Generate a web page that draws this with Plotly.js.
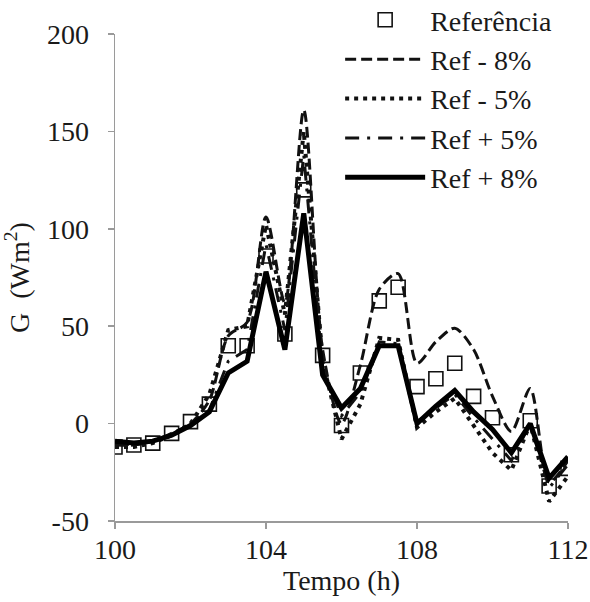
<!DOCTYPE html>
<html>
<head>
<meta charset="utf-8">
<script src="https://cdn.plot.ly/plotly-3.0.1.min.js"></script>
<style>
html,body{margin:0;padding:0;background:#fff;}
#chart{width:590px;height:602px;}
</style>
</head>
<body>
<div id="chart"></div>
<script>
// Time (h)
const tempo = [100,100.5,101,101.5,102,102.5,103,103.5,104,104.5,105,105.5,106,106.5,107,107.5,108,108.5,109,109.5,110,110.5,111,111.5,112];
// G (W/m2)
const referencia = [-12,-11,-10,-5,1,10,40,40,86,46,120,35,-1,26,63,70,19,23,31,14,3,-16,1.5,-32,-23];
const refMenos8 = [-11,-11,-9,-5,0,12,45,52,106,62,161,38,0,30,69,77,31,42,49,38,14,-4,18,-30,-19];
const refMenos5 = [-12,-12,-10,-6,0,15,48,50,102,56,150,32,-8,10,44,43,-2,6,13,-1,-15,-24,0,-40,-27];
const refMais5 = [-10,-11,-9,-6,-1,7,32,38,92,48,138,28,4,16,42,41,1,8,15,3,-8,-19,0,-33,-21];
const refMais8 = [-9,-10,-9,-6,-1,6,26,32,78,38,108,25,8,18,40,40,0,9,17,6,-3,-15,0,-28,-17];
const nomes = ["Referência","Ref - 8%","Ref - 5%","Ref + 5%","Ref + 8%"];
const xTicks = [100,104,108,112];
const yTicks = [-50,0,50,100,150,200];

const FONT = '"Times New Roman", "Liberation Serif", Tinos, serif';
const TXT = "#1a1a1a";
const FS = 28;
const traces = [
  {x:tempo,y:referencia,name:nomes[0],mode:"markers",type:"scatter",
   marker:{symbol:"square-open",size:14,color:"#111",line:{width:1.6,color:"#111"}}},
  {x:tempo,y:refMenos8,name:nomes[1],mode:"lines",type:"scatter",
   line:{color:"#111",width:3,dash:"11px,5px",shape:"spline",smoothing:0.8}},
  {x:tempo,y:refMenos5,name:nomes[2],mode:"lines",type:"scatter",
   line:{color:"#111",width:4,dash:"4px,5px"}},
  {x:tempo,y:refMais5,name:nomes[3],mode:"lines",type:"scatter",
   line:{color:"#111",width:3,dash:"14px,8px,3px,8px"}},
  {x:tempo,y:refMais8,name:nomes[4],mode:"lines",type:"scatter",
   line:{color:"#000",width:5}}
];

const axisCommon = {
  showgrid:false, zeroline:false, showline:true, linecolor:"#9a9a9a", linewidth:1.5,
  ticks:"outside", ticklen:6, tickcolor:"#9a9a9a", tickwidth:1.5,
  tickfont:{family:FONT,size:FS,color:TXT}
};

const layout = {
  width:590, height:602,
  font:{family:FONT,size:FS,color:TXT},
  margin:{l:115,r:22,t:34,b:81,autoexpand:false},
  paper_bgcolor:"#fff", plot_bgcolor:"#fff",
  showlegend:true,
  legend:{x:0.497,y:1.08,xanchor:"left",yanchor:"top",bgcolor:"rgba(0,0,0,0)",
    font:{family:FONT,size:FS,color:TXT},itemwidth:80,tracegroupgap:0},
  xaxis:Object.assign({},axisCommon,{range:[100,112],tickvals:xTicks,ticktext:xTicks.map(String),
    title:{text:"Tempo (h)",font:{family:FONT,size:FS,color:TXT},standoff:1},ticklabelstandoff:-3}),
  yaxis:Object.assign({},axisCommon,{range:[-50,200],tickvals:yTicks,ticktext:yTicks.map(String),
    title:{text:"G  (Wm<sup>2</sup>)",font:{family:FONT,size:FS,color:TXT},standoff:12},ticklabelstandoff:13})
};

Plotly.newPlot("chart",traces,layout,{displayModeBar:false,staticPlot:true});
</script>
</body>
</html>
